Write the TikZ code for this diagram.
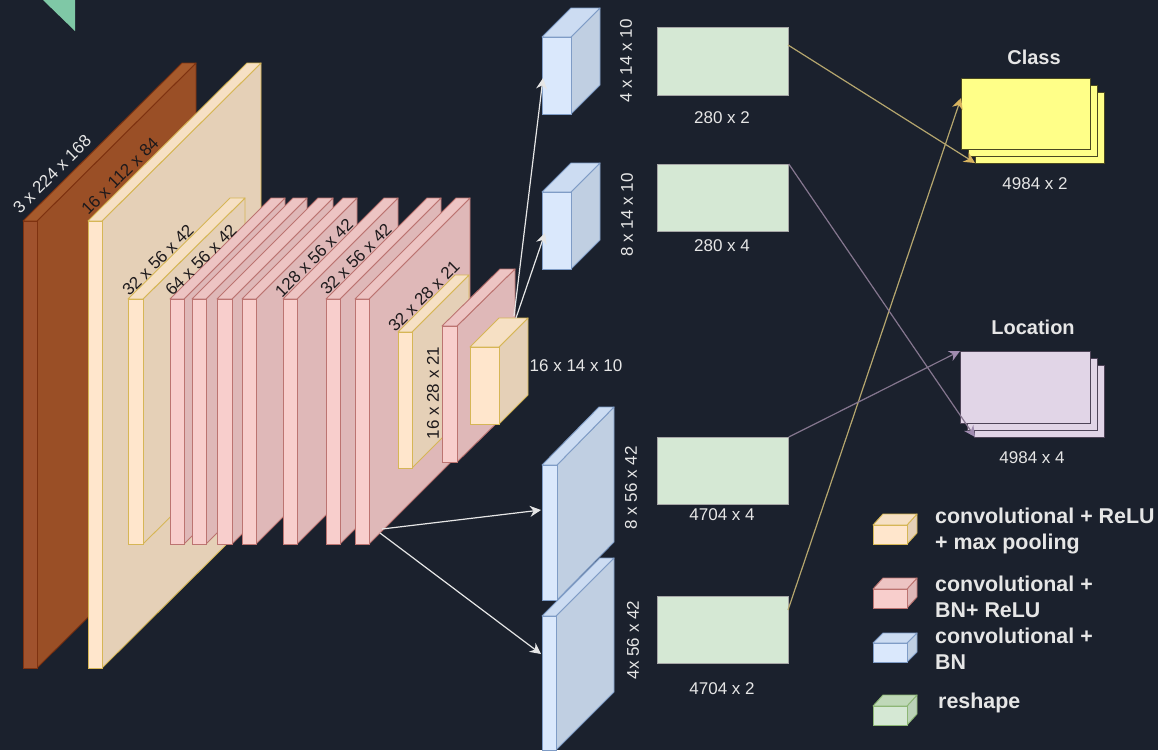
\documentclass[tikz,border=0pt]{standalone}
\usepackage{fontspec}
\setmainfont{Liberation Sans}
\usetikzlibrary{arrows.meta}
\definecolor{bgc}{HTML}{1B212D}
\definecolor{whtxt}{HTML}{E6E6E6}
\definecolor{dktxt}{HTML}{1E1A1C}
\definecolor{tanl}{HTML}{B5A66E}
\definecolor{tant}{HTML}{D9B45F}
\definecolor{purl}{HTML}{85768F}
\definecolor{purt}{HTML}{A08CB0}
\definecolor{greenf}{HTML}{D5E8D4}
\definecolor{triang}{HTML}{7FC8A6}
\definecolor{yelf}{HTML}{FFFF88}
\definecolor{yele}{HTML}{4A4820}
\definecolor{purf}{HTML}{E1D5E7}
\definecolor{pure}{HTML}{4E4458}
\tikzset{
  lab/.style={font=\fontsize{17}{20}\selectfont,inner sep=0pt},
  wlab/.style={lab,text=whtxt},
  dlab/.style={lab,text=dktxt},
  head/.style={font=\fontsize{20}{24}\bfseries\selectfont,text=whtxt,inner sep=0pt},
  legend/.style={font=\fontsize{21.4}{26}\bfseries\selectfont,text=whtxt,inner sep=0pt,anchor=west,align=left},
  wire/.style={line width=1.2pt,-{Stealth[length=11pt,width=11pt]}},
  whitew/.style={wire,draw=whtxt},
  tanw/.style={wire,draw=tanl,-{Stealth[length=11pt,width=11pt,color=tant]}},
  purw/.style={wire,draw=purl,-{Stealth[length=11pt,width=11pt,color=purt]}},
  reshapebox/.style={draw=gray!70,fill=greenf,line width=.8pt,inner sep=0pt,minimum width=131pt,minimum height=68pt,anchor=north west},
}
\newcommand{\colbrown}{\definecolor{cs}{HTML}{7E3210}\definecolor{cf}{HTML}{A0522D}\definecolor{ct}{HTML}{A65A2C}\definecolor{cd}{HTML}{9A4F26}}
\newcommand{\colcream}{\definecolor{cs}{HTML}{D6B656}\definecolor{cf}{HTML}{FFE6CC}\definecolor{ct}{HTML}{F6E0C4}\definecolor{cd}{HTML}{E5D0B7}}
\newcommand{\colpink}{\definecolor{cs}{HTML}{BC7471}\definecolor{cf}{HTML}{F8CECC}\definecolor{ct}{HTML}{EDC4C3}\definecolor{cd}{HTML}{DFB8B8}}
\newcommand{\colblue}{\definecolor{cs}{HTML}{7F9CC6}\definecolor{cf}{HTML}{DAE8FC}\definecolor{ct}{HTML}{CCDCF2}\definecolor{cd}{HTML}{C0CFE2}}
\newcommand{\colgreen}{\definecolor{cs}{HTML}{8DB676}\definecolor{cf}{HTML}{D5E8D4}\definecolor{ct}{HTML}{BFD8B8}\definecolor{cd}{HTML}{BBD2B8}}
% \blk{name}{x}{y}{w}{h}{dx}{dy}
\newcommand{\blk}[7]{%
  \draw[draw=cs,fill=cd,line width=.9pt,line join=round] (#2+#4,#3) -- (#2+#4+#6,#3-#7) -- (#2+#4+#6,#3+#5-#7) -- (#2+#4,#3+#5) -- cycle;
  \draw[draw=cs,fill=ct,line width=.9pt,line join=round] (#2,#3) -- (#2+#6,#3-#7) -- (#2+#4+#6,#3-#7) -- (#2+#4,#3) -- cycle;
  \node[draw=cs,fill=cf,line width=.9pt,inner sep=0pt,outer sep=0pt,minimum width=#4pt,minimum height=#5pt,anchor=north west] (#1) at (#2,#3) {};
}
% \stackb{name}{x}{y}{w}{h}{fill}{edge}
\newcommand{\stackb}[7]{%
  \node[draw=#7,fill=#6,line width=1pt,inner sep=0pt,minimum width=#4pt,minimum height=#5pt,anchor=north west] (#1c) at (#2+14,#3+14) {};
  \node[draw=#7,fill=#6,line width=1pt,inner sep=0pt,minimum width=#4pt,minimum height=#5pt,anchor=north west] (#1b) at (#2+7,#3+7) {};
  \node[draw=#7,fill=#6,line width=1pt,inner sep=0pt,minimum width=#4pt,minimum height=#5pt,anchor=north west] (#1) at (#2,#3) {};
}
\begin{document}
\begin{tikzpicture}[x=1pt,y=-1pt]
\fill[bgc] (0,0) rectangle (1158,750);
\useasboundingbox (0,0) rectangle (1158,750);
\fill[fill=triang] (43,0) -- (75,0) -- (75,31) -- cycle;
% main column
\colbrown \blk{a}{23}{221}{14}{447}{159}{158}
\colcream \blk{b}{88}{221}{14}{447}{159}{158}
\colcream \blk{c}{128}{299}{15}{245}{102}{101}
\colpink
\blk{p1}{170}{299}{14}{245}{101}{101}
\blk{p2}{192}{299}{14}{245}{101}{101}
\blk{p3}{217}{299}{15}{245}{101}{101}
\blk{p4}{242}{299}{14}{245}{101}{101}
\blk{p5}{283}{299}{14}{245}{101}{101}
\blk{p6}{326}{299}{14}{245}{101}{101}
\blk{p7}{355}{299}{14}{245}{101}{101}
\colcream \blk{d}{398}{332}{14}{136}{57}{57}
\colpink \blk{e}{442}{326}{15}{136}{58}{57}
\colcream \blk{f}{470}{347}{29}{77}{29}{29}
% blue branch
\colblue
\blk{u1}{542}{37}{29}{77}{29}{29}
\blk{u2}{542}{192}{29}{77}{29}{29}
\blk{u3}{542}{465}{15}{135}{57}{58}
\blk{u4}{542}{616}{14}{134}{58}{58}
% reshape boxes
\node[reshapebox] (g1) at (657,27) {};
\node[reshapebox,minimum height=67pt] (g2) at (657,164) {};
\node[reshapebox,minimum height=67pt] (g3) at (657,437) {};
\node[reshapebox,minimum height=67pt] (g4) at (657,596) {};
% outputs
\stackb{cl}{961}{78}{129}{71}{yelf}{yele}
\stackb{lo}{960}{351}{130}{72}{purf}{pure}
% connector ends
\coordinate (s1) at (514,316);
\coordinate (s2) at (516,318);
\coordinate (s3) at (382,529);
\coordinate (s4) at (380,533);
\coordinate (t1) at (543,78);
\coordinate (t2) at (545,233);
\coordinate (t3) at (541,510);
\coordinate (t4) at (541,654);
\coordinate (g1o) at (788,45);
\coordinate (g4o) at (788,610);
\coordinate (cl1) at (975,163);
\coordinate (cl2) at (961,98);
\coordinate (lo1) at (975,437);
\coordinate (lo2) at (960,351);
\draw[whitew] (s1) -- (t1);
\draw[whitew] (s2) -- (t2);
\draw[whitew] (s3) -- (t3);
\draw[whitew] (s4) -- (t4);
\draw[tanw] (g1o) -- (cl1);
\draw[tanw] (g4o) -- (cl2);
\draw[purw] (g2.north east) -- (lo1);
\draw[purw] (g3.north east) -- (lo2);
% labels
\node[wlab,rotate=45] (l1) at (52,174) {3 x 224 x 168};
\node[dlab,rotate=45] (l2) at (120,176) {16 x 112 x 84};
\node[dlab,rotate=45] (l3) at (158,260) {32 x 56 x 42};
\node[dlab,rotate=45] (l4) at (201,260) {64 x 56 x 42};
\node[dlab,rotate=45] (l5) at (314,258) {128 x 56 x 42};
\node[dlab,rotate=45] (l6) at (356,259) {32 x 56 x 42};
\node[dlab,rotate=45] (l7) at (424,296) {32 x 28 x 21};
\node[dlab,rotate=90] (l8) at (433,393) {16 x 28 x 21};
\node[wlab] (l9) at (576,366) {16 x 14 x 10};
\node[wlab,rotate=90] (l10) at (626,61) {4 x 14 x 10};
\node[wlab,rotate=90] (l11) at (627,215) {8 x 14 x 10};
\node[wlab,rotate=90] (l12) at (631,488) {8 x 56 x 42};
\node[wlab,rotate=90] (l13) at (633,640) {4x 56 x 42};
\node[wlab] (l14) at (722,118) {280 x 2};
\node[wlab] (l15) at (722,246) {280 x 4};
\node[wlab] (l16) at (722,515) {4704 x 4};
\node[wlab] (l17) at (722,689) {4704 x 2};
\node[wlab] (l18) at (1035,184) {4984 x 2};
\node[wlab] (l19) at (1032,458) {4984 x 4};
\node[head] (h1) at (1034,57) {Class};
\node[head] (h2) at (1033,327) {Location};
% legend
\colcream \blk{k1}{873}{525}{34}{19}{10}{11}
\colpink \blk{k2}{873}{589}{34}{19}{10}{11}
\colblue \blk{k3}{873}{643}{34}{19}{10}{10}
\colgreen \blk{k4}{873}{706}{34}{19}{10}{11}
\node[legend] (t5) at (935,531) {convolutional + ReLU\\+ max pooling};
\node[legend] (t6) at (935,597) {convolutional +\\BN+ ReLU};
\node[legend] (t7) at (935,649) {convolutional +\\BN};
\node[legend] (t8) at (938,703) {reshape};
\end{tikzpicture}
\end{document}
